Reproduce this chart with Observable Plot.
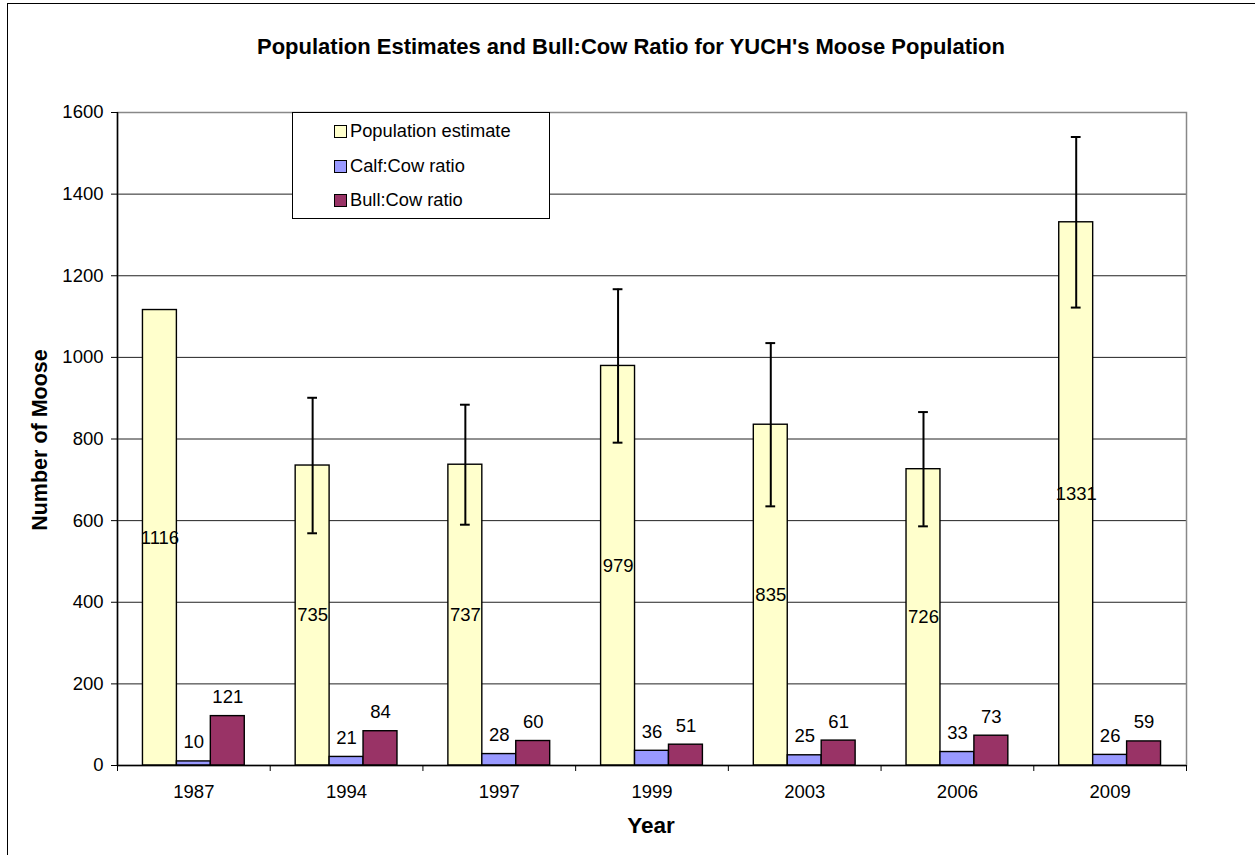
<!DOCTYPE html>
<html><head><meta charset="utf-8">
<script src="https://cdn.jsdelivr.net/npm/d3@7"></script>
<script src="https://cdn.jsdelivr.net/npm/@observablehq/plot@0.6"></script>
<style>
html,body{margin:0;padding:0;background:#fff;overflow:hidden;}
#wrap{position:relative;width:1255px;height:855px;font-family:"Liberation Sans",Arial,sans-serif;color:#000;overflow:hidden;}
#border{position:absolute;left:7px;top:3px;width:1270px;height:880px;border:1px solid #000;box-sizing:border-box;}
#title{position:absolute;left:7px;width:1248px;top:34px;text-align:center;font-weight:bold;font-size:22px;line-height:26px;}
#ytitle{position:absolute;left:40px;top:440px;transform:translate(-50%,-50%) rotate(-90deg);font-weight:bold;font-size:21.5px;white-space:nowrap;}
#xtitle{position:absolute;left:651px;top:826px;transform:translate(-50%,-50%);font-weight:bold;font-size:22.5px;white-space:nowrap;}
#chart{position:absolute;left:0;top:0;}
#legend{position:absolute;left:292px;top:112px;width:258px;height:107px;border:1px solid #000;background:#fff;box-sizing:border-box;font-size:18.3px;}
.item{position:absolute;left:41px;display:flex;align-items:center;height:22px;}
.sw{width:11px;height:11px;border:1.5px solid #000;margin-right:3px;}
</style></head>
<body>
<div id="wrap">
  <div id="border"></div>
  <div id="chart"></div>
  <div id="title">Population Estimates and Bull:Cow Ratio for YUCH's Moose Population</div>
  <div id="ytitle">Number of Moose</div>
  <div id="xtitle">Year</div>
  <div id="legend"></div>
</div>
<script>
const years = ["1987", "1994", "1997", "1999", "2003", "2006", "2009"];
const populationEstimate = [1116, 735, 737, 979, 835, 726, 1331];
const calfCowRatio = [10, 21, 28, 36, 25, 33, 26];
const bullCowRatio = [121, 84, 60, 51, 61, 73, 59];
const populationError = [null, 166, 147, 188, 200, 140, 209];
const seriesNames = ["Population estimate", "Calf:Cow ratio", "Bull:Cow ratio"];
const seriesColors = ["#FFFFCC", "#9999FF", "#993366"];
const yTicks = [0, 200, 400, 600, 800, 1000, 1200, 1400, 1600];

const seriesValues = [populationEstimate, calfCowRatio, bullCowRatio];
const barW = 1 / 4.5; // gap width 150%
const capHalf = 0.032;

const rows = [];
years.forEach((yr, i) => {
  seriesValues.forEach((vals, s) => {
    const x1 = i + (s - 1.5) * barW;
    rows.push({year: yr, i, series: seriesNames[s], s, value: vals[i], x1, x2: x1 + barW, xc: x1 + barW / 2});
  });
});
const popRows = rows.filter(d => d.s === 0);
const smallRows = rows.filter(d => d.s > 0);
const errRows = popRows
  .map(d => ({...d, err: populationError[d.i]}))
  .filter(d => d.err != null)
  .map(d => ({...d, lo: d.value - d.err, hi: d.value + d.err}));

const boundaries = d3.range(0, years.length + 1).map(k => k - 0.5);

const chart = Plot.plot({
  width: 1255,
  height: 855,
  marginLeft: 117,
  marginRight: 69,
  marginTop: 112,
  marginBottom: 90,
  style: {fontFamily: "'Liberation Sans', Arial, sans-serif", fontSize: "18.5px", color: "#000", background: "transparent"},
  x: {type: "linear", domain: [-0.5, years.length - 0.5]},
  y: {domain: [0, 1600]},
  color: {domain: seriesNames, range: seriesColors},
  marks: [
    Plot.ruleY(yTicks.filter(t => t > 0 && t < 1600), {stroke: "#222", strokeWidth: 1}),
    Plot.frame({stroke: "#888", strokeWidth: 1.5}),
    Plot.rectY(rows, {x1: "x1", x2: "x2", y1: 0, y2: "value", fill: "series", stroke: "#000", strokeWidth: 1.4}),
    Plot.ruleX(errRows, {x: "xc", y1: "lo", y2: "hi", stroke: "#000", strokeWidth: 2}),
    Plot.ruleY(errRows, {y: "lo", x1: d => d.xc - capHalf, x2: d => d.xc + capHalf, stroke: "#000", strokeWidth: 2}),
    Plot.ruleY(errRows, {y: "hi", x1: d => d.xc - capHalf, x2: d => d.xc + capHalf, stroke: "#000", strokeWidth: 2}),
    Plot.text(popRows, {x: "xc", y: d => d.value / 2, text: d => String(d.value), fill: "#000", fontSize: 18.5}),
    Plot.text(smallRows, {x: "xc", y: "value", text: d => String(d.value), dy: -19, fill: "#000", fontSize: 18.5}),
    Plot.ruleX([-0.5], {stroke: "#000", strokeWidth: 1.5}),
    Plot.ruleY([0], {stroke: "#000", strokeWidth: 1.5}),
    Plot.axisY({ticks: yTicks, tickFormat: d => String(d), tickSize: 6, tickPadding: 8, label: null, stroke: "#000"}),
    Plot.axisX({ticks: years.map((_, i) => i), tickFormat: i => years[i], tickSize: 0, tickPadding: 19, label: null}),
    Plot.axisX({ticks: boundaries, tickFormat: () => "", tickSize: 6, label: null, stroke: "#000"})
  ]
});
document.getElementById("chart").appendChild(chart);

const legend = document.getElementById("legend");
const itemTops = [7, 42, 76];
seriesNames.forEach((name, s) => {
  const it = document.createElement("div");
  it.className = "item";
  it.style.top = itemTops[s] + "px";
  const sw = document.createElement("div");
  sw.className = "sw";
  sw.style.background = seriesColors[s];
  const tx = document.createElement("span");
  tx.textContent = name;
  it.appendChild(sw);
  it.appendChild(tx);
  legend.appendChild(it);
});
</script>
</body></html>
